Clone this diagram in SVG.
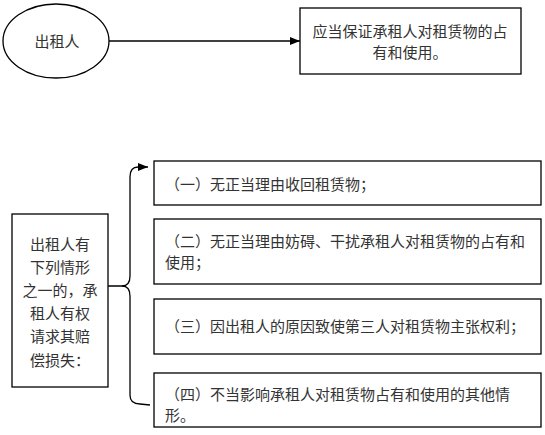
<svg xmlns="http://www.w3.org/2000/svg" width="545" height="435" viewBox="0 0 545 435">
<defs>
<marker id="arr" markerWidth="10" markerHeight="8" refX="10" refY="4" orient="auto" markerUnits="userSpaceOnUse">
<path d="M0,0 L10,4 L0,8 Z" fill="#000"/>
</marker>
<style>
.shape{fill:#fff;stroke:#000;stroke-width:1.3}
.t{font-family:"Noto Sans CJK SC","Noto Sans",sans-serif;font-size:15px;fill:#333}
.c{text-anchor:middle}
.ln{fill:none;stroke:#000;stroke-width:1.3}
</style>
</defs>
<rect width="545" height="435" fill="#fff"/>
<g id="connectors">
<line class="ln" x1="109" y1="41" x2="300" y2="41" marker-end="url(#arr)"/>
<path class="ln" d="M108,286 L122,286 Q130,286 130,276 L130,177 Q130,167 138,167 L148,167" marker-end="url(#arr)"/>
<path class="ln" d="M122,286 Q130,286 130,296 L130,395 Q130,404 140,404 L150,405"/>
</g>
<g id="lessor">
<ellipse class="shape" cx="56" cy="41" rx="53" ry="37"/>
<text class="t c" x="57" y="47">出租人</text>
</g>
<g id="duty">
<rect class="shape" x="300" y="8" width="221" height="66"/>
<text class="t c" x="410" y="37">应当保证承租人对租赁物的占</text>
<text class="t c" x="410" y="58">有和使用。</text>
</g>
<g id="claim">
<rect class="shape" x="12" y="214" width="96" height="173"/>
<text class="t c" x="60" y="250">出租人有</text>
<text class="t c" x="60" y="273">下列情形</text>
<text class="t c" x="60" y="296">之一的，承</text>
<text class="t c" x="60" y="319">租人有权</text>
<text class="t c" x="60" y="342">请求其赔</text>
<text class="t c" x="60" y="366">偿损失：</text>
</g>
<g id="case1">
<rect class="shape" x="154" y="161" width="387" height="44"/>
<text class="t" x="165" y="190">（一）无正当理由收回租赁物；</text>
</g>
<g id="case2">
<rect class="shape" x="154" y="219" width="387" height="65"/>
<text class="t" x="165" y="247">（二）无正当理由妨碍、干扰承租人对租赁物的占有和</text>
<text class="t" x="165" y="268">使用；</text>
</g>
<g id="case3">
<rect class="shape" x="154" y="299" width="387" height="55"/>
<text class="t" x="165" y="332">（三）因出租人的原因致使第三人对租赁物主张权利；</text>
</g>
<g id="case4">
<rect class="shape" x="154" y="373" width="387" height="54"/>
<text class="t" x="165" y="400">（四）不当影响承租人对租赁物占有和使用的其他情</text>
<text class="t" x="165" y="421">形。</text>
</g>
</svg>
